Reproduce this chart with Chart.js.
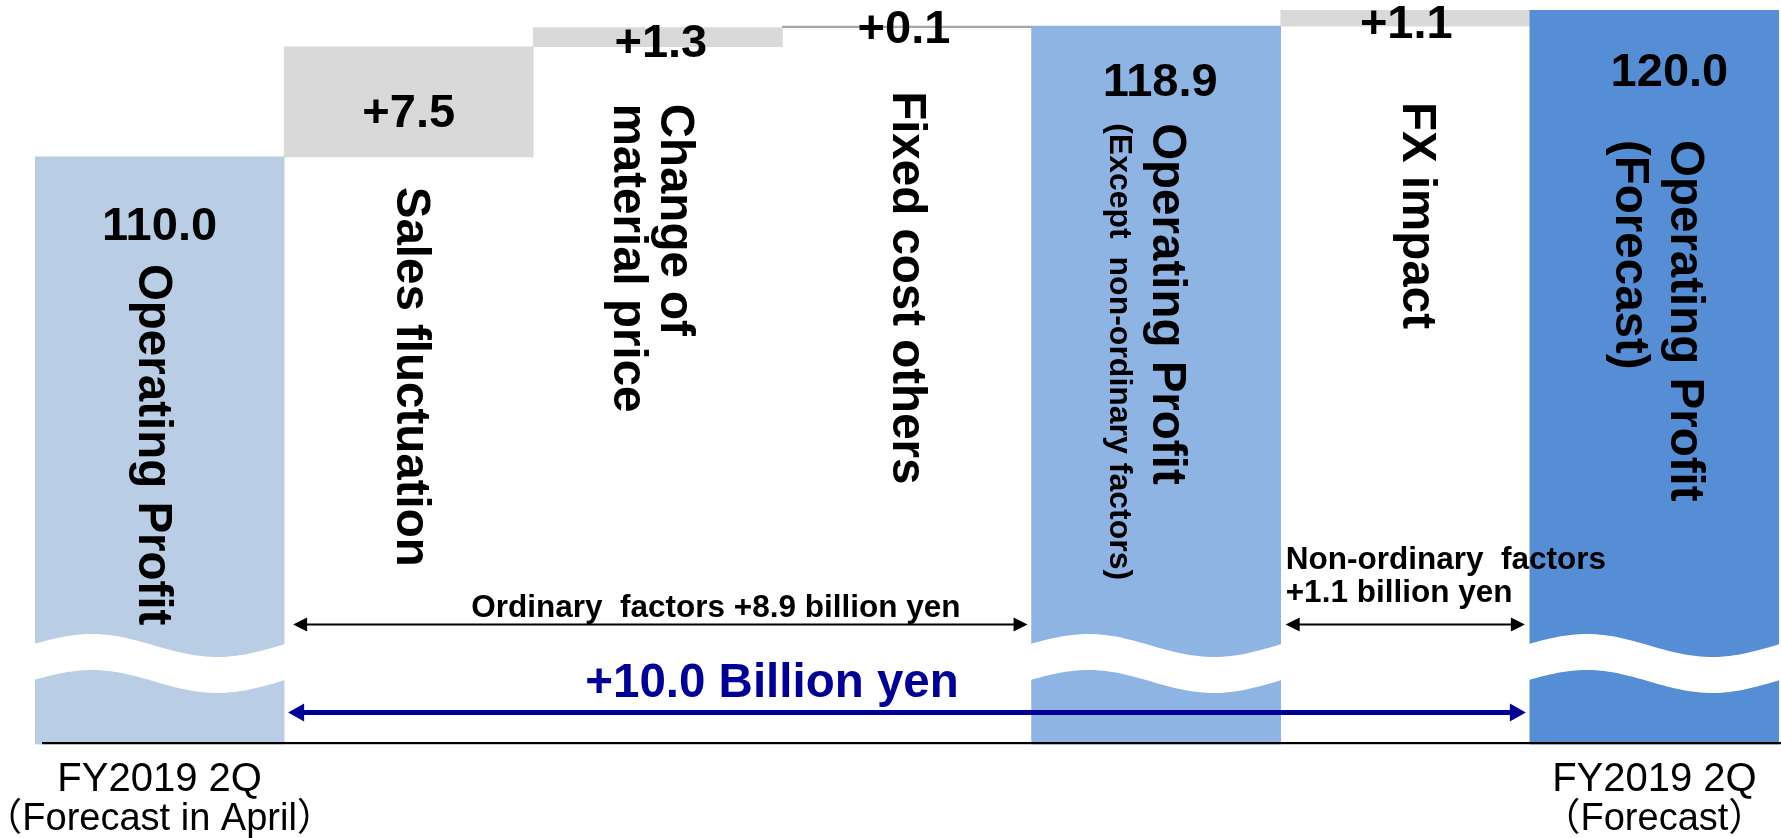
<!DOCTYPE html>
<html><head><meta charset="utf-8">
<script src="https://cdn.jsdelivr.net/npm/chart.js@4/dist/chart.umd.min.js"></script>
<style>html,body{margin:0;padding:0;background:#fff;}#wrap{width:1781px;height:838px;position:relative;}</style>
</head><body><div id="wrap"><canvas id="c"></canvas></div>
<script>
// ---- data ----
const categories = ['Operating Profit','Sales fluctuation','Change of material price','Fixed cost others','Operating Profit (Except non-ordinary factors)','FX impact','Operating Profit (Forecast)'];
const barStart = [70, 110.0, 117.5, 118.8, 70, 118.9, 70];
const barEnd = [110.0, 117.5, 118.8, 118.9, 118.9, 120.0, 120.0];
const valueLabels = ['110.0','+7.5','+1.3','+0.1','118.9','+1.1','120.0'];
const barLabelLines = [['Operating Profit'],['Sales fluctuation'],['Change of','material price'],['Fixed cost others'],['Operating Profit','(Except  non-ordinary factors)'],['FX impact'],['Operating Profit','(Forecast)']];
const bottomLabels = [['FY2019 2Q','（Forecast in April）'],[],[],[],[],[],['FY2019 2Q','（Forecast）']];
const brokenBars = [0, 4, 6];
const axisBreakBase = 70;
const axisTop = 120;
const ordinaryText = 'Ordinary  factors +8.9 billion yen';
const nonOrdinaryText = ['Non-ordinary  factors','+1.1 billion yen'];
const totalText = '+10.0 Billion yen';

// ---- styles ----
const barColors = ['#b9cde5','#d9d9d9','#d9d9d9','#a6a6a6','#8eb4e3','#d9d9d9','#558ed5'];
const FONT = '"Liberation Sans", Arial, "Noto Sans CJK JP", sans-serif';
const valueLabelOffset = [[0,70],[0,67],[3,16],[-3,3.5],[4,57],[1,15],[15,63]];
const rotLabelTop = [107,140,76,65,97,92,130];
const rotLabelDx = [[-7],[1],[16,-31],[-1],[10,-37],[11],[30,-25]];
const rotLabelSize = [[47.5],[47.5],[47.5,47.5],[47.5],[47.5,32],[47.5],[47.5,47.5]];

const annot = {
  id: 'annot',
  afterDatasetsDraw(chart) {
    const ctx = chart.ctx;
    const bars = chart.getDatasetMeta(0).data;
    const area = chart.chartArea;
    const bottom = area.bottom;
    ctx.save();
    // axis break waves
    brokenBars.forEach(i => {
      const b = bars[i];
      const L = b.x - b.width/2 - 1, R = b.x + b.width/2 + 1, W = R - L;
      const up = bottom - 99, lo = bottom - 63, A = 11.5;
      ctx.beginPath();
      for (let k = 0; k <= 60; k++) {
        const t = k/60; const x = L + t*W;
        const y = up - A*Math.sin(2*Math.PI*(t+0.02));
        k === 0 ? ctx.moveTo(x, y) : ctx.lineTo(x, y);
      }
      for (let k = 60; k >= 0; k--) {
        const t = k/60; const x = L + t*W;
        ctx.lineTo(x, lo - A*Math.sin(2*Math.PI*(t+0.02)));
      }
      ctx.closePath();
      ctx.fillStyle = '#ffffff';
      ctx.fill();
    });
    // baseline
    ctx.fillStyle = '#000';
    ctx.fillRect(area.left + 7, bottom - 2.5, chart.width - area.left - 7, 2.2);

    // value labels
    ctx.fillStyle = '#000';
    ctx.textAlign = 'center';
    ctx.textBaseline = 'middle';
    ctx.font = 'bold 47px ' + FONT;
    bars.forEach((b, i) => {
      const top = Math.min(b.y, b.base);
      ctx.fillText(valueLabels[i], b.x + valueLabelOffset[i][0], top + valueLabelOffset[i][1]);
    });
    // rotated category labels
    bars.forEach((b, i) => {
      const top = Math.min(b.y, b.base);
      barLabelLines[i].forEach((line, j) => {
        ctx.save();
        ctx.translate(b.x + rotLabelDx[i][j], top + rotLabelTop[i]);
        ctx.rotate(Math.PI/2);
        ctx.textAlign = 'left';
        ctx.textBaseline = 'middle';
        ctx.font = 'bold ' + rotLabelSize[i][j] + 'px ' + FONT;
        ctx.fillText(line, 0, 0);
        ctx.restore();
      });
    });
    // bottom labels
    ctx.textAlign = 'center';
    bars.forEach((b, i) => {
      bottomLabels[i].forEach((line, j) => {
        ctx.font = (j === 0 ? 40 : 38) + 'px ' + FONT;
        ctx.fillText(line, b.x, bottom + 35 + j*40);
      });
    });

    function arrow(x1, x2, y, color, lw, hl, hw) {
      ctx.strokeStyle = color; ctx.fillStyle = color; ctx.lineWidth = lw;
      ctx.beginPath(); ctx.moveTo(x1 + hl*0.8, y); ctx.lineTo(x2 - hl*0.8, y); ctx.stroke();
      ctx.beginPath(); ctx.moveTo(x1, y); ctx.lineTo(x1 + hl, y - hw/2); ctx.lineTo(x1 + hl, y + hw/2); ctx.closePath(); ctx.fill();
      ctx.beginPath(); ctx.moveTo(x2, y); ctx.lineTo(x2 - hl, y - hw/2); ctx.lineTo(x2 - hl, y + hw/2); ctx.closePath(); ctx.fill();
    }
    const r0 = bars[0].x + bars[0].width/2;
    const l4 = bars[4].x - bars[4].width/2;
    const r4 = bars[4].x + bars[4].width/2;
    const l6 = bars[6].x - bars[6].width/2;
    arrow(r0 + 9, l4 - 4, bottom - 120, '#000', 2, 14, 14);
    arrow(r4 + 5, l6 - 5, bottom - 120, '#000', 2, 14, 14);
    arrow(r0 + 4, l6 - 4, bottom - 32, '#000099', 5, 16, 18);

    ctx.fillStyle = '#000';
    ctx.font = 'bold 31.5px ' + FONT;
    ctx.textAlign = 'center';
    ctx.fillText(ordinaryText, (r0 + l4)/2 + 58, bottom - 136);
    ctx.textAlign = 'left';
    ctx.fillText(nonOrdinaryText[0], r4 + 5, bottom - 184);
    ctx.fillText(nonOrdinaryText[1], r4 + 5, bottom - 151);
    ctx.fillStyle = '#000099';
    ctx.font = 'bold 47.5px ' + FONT;
    ctx.textAlign = 'center';
    ctx.fillText(totalText, 772, bottom - 61);
    ctx.restore();
  }
};

new Chart(document.getElementById('c'), {
  type: 'bar',
  data: {
    labels: categories,
    datasets: [{
      data: barStart.map((s, i) => [s, barEnd[i]]),
      backgroundColor: barColors,
      borderWidth: 0,
      barPercentage: 1,
      categoryPercentage: 1
    }]
  },
  options: {
    responsive: true,
    maintainAspectRatio: false,
    animation: false,
    layout: { padding: { left: 35, right: 2, top: 10, bottom: 93.5 } },
    plugins: { legend: { display: false }, tooltip: { enabled: false } },
    scales: {
      x: { display: false },
      y: { display: false, min: axisBreakBase, max: axisTop }
    }
  },
  plugins: [annot]
});
</script></body></html>
